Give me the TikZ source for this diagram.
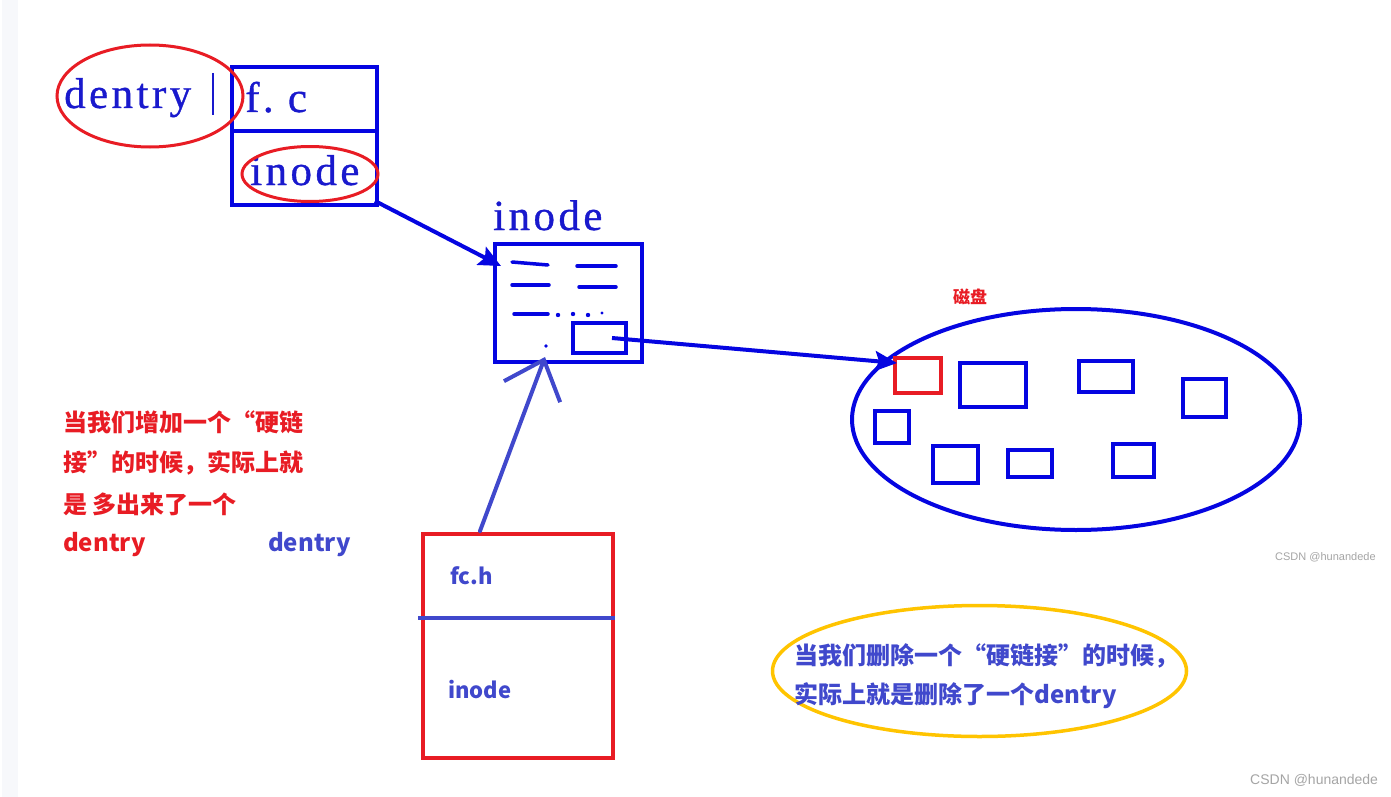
\documentclass[tikz,border=0pt]{standalone}
\usepackage{fontspec}
\setmainfont{Liberation Serif}
\newfontfamily\simserif[LetterSpace=8,FakeBold=0.8]{Liberation Serif}
\newfontfamily\cjkb{Noto Sans CJK SC}
\newfontfamily\wmfont{Liberation Sans}
\usetikzlibrary{arrows.meta,shapes.geometric}
\definecolor{skblue}{RGB}{5,5,225}
\definecolor{sktext}{RGB}{25,25,205}
\definecolor{skred}{RGB}{232,28,36}
\definecolor{penblue}{RGB}{64,72,204}
\definecolor{penyellow}{RGB}{255,196,0}
\definecolor{wm}{RGB}{165,165,165}
\definecolor{edge}{RGB}{247,248,251}
\tikzset{
  skbox/.style={draw=skblue, line width=4pt, inner sep=0pt, rectangle},
  redbox/.style={draw=skred, line width=4pt, inner sep=0pt, rectangle},
  serifblue/.style={text=sktext, font=\simserif\fontsize{43}{46}\selectfont, inner sep=0pt},
  redoval/.style={draw=skred, line width=3pt, ellipse, inner sep=0pt},
  cjkred/.style={text=skred, font=\cjkb\bfseries\fontsize{24}{28}\selectfont, inner sep=0pt, anchor=west},
  cjkblue/.style={text=penblue, font=\cjkb\bfseries\fontsize{24}{28}\selectfont, inner sep=0pt, anchor=west},
  boxlabel/.style={text=penblue, font=\cjkb\bfseries\fontsize{22}{26}\selectfont, inner sep=0pt, anchor=west},
  skarrow/.style={draw=skblue, line width=4pt, -{Stealth[length=22pt,width=20pt,inset=4pt]}},
  penarrow/.style={draw=penblue, line width=4pt, line cap=round, -{Straight Barb[length=34pt,width=60pt,line width=4pt]}},
  scribble/.style={draw=skblue, line width=3.5pt, line cap=round},
  wmark/.style={text=wm, font=\wmfont, inner sep=0pt}
}
\begin{document}
\begin{tikzpicture}[x=1pt,y=-1pt]
\useasboundingbox (0,0) rectangle (1391,797);
\fill[white] (0,0) rectangle (1391,797);
\fill[edge] (2,0) rectangle (18,797);

% dentry block
\node[skbox, minimum width=145pt, minimum height=138pt] (fc) at (304.5,136) {};
\coordinate (divl) at (232,131);
\coordinate (divr) at (377,131);
\draw[skblue, line width=4pt] (divl) -- (divr);
\node[serifblue, anchor=base west] (dentrytxt) at (64,108) {dentry};
\coordinate (bart) at (213,73);
\coordinate (barb) at (213,115);
\draw[sktext, line width=2pt] (bart) -- (barb);
\node[serifblue, anchor=base west] (fctxt) at (245,112) {f.~c};
\node[serifblue, anchor=base west] (inodetxt) at (250,185) {inode};
\node[redoval, minimum width=186pt, minimum height=102pt] (dentryoval) at (150,96) {};
\node[redoval, minimum width=136pt, minimum height=55pt] (inodeoval) at (310,174) {};

% inode box
\node[serifblue, anchor=base west] (inodelabel) at (493,230) {inode};
\node[skbox, minimum width=147pt, minimum height=118pt] (ibox) at (568.5,303) {};
\node[skbox, line width=3.5pt, minimum width=53pt, minimum height=30pt] (slot) at (599.5,338) {};
\coordinate (d1a) at (512,262); \coordinate (d1b) at (548,265);
\coordinate (d2a) at (577,266); \coordinate (d2b) at (616,266);
\coordinate (d3a) at (512,285); \coordinate (d3b) at (549,285);
\coordinate (d4a) at (579,287); \coordinate (d4b) at (616,287);
\coordinate (d5a) at (514,314); \coordinate (d5b) at (548,314);
\draw[scribble] (d1a) -- (d1b);
\draw[scribble] (d2a) -- (d2b);
\draw[scribble] (d3a) -- (d3b);
\draw[scribble] (d4a) -- (d4b);
\draw[scribble] (d5a) -- (d5b);
\fill[skblue] (558,315) circle (2.2pt) (573,314) circle (2.2pt) (588,315) circle (2.2pt) (602,313) circle (1.6pt) (546,346) circle (1.8pt);

% disk
\node[text=skred, font=\cjkb\bfseries\fontsize{17}{19}\selectfont, inner sep=0pt] (disklabel) at (970,297) {磁盘};
\node[draw=skblue, line width=4pt, ellipse, minimum width=448pt, minimum height=221pt, inner sep=0pt] (disk) at (1076,419.5) {};
\node[redbox, minimum width=46pt, minimum height=35pt] (blk0) at (918,375.5) {};
\node[skbox, minimum width=66pt, minimum height=44pt] (blk1) at (993,385) {};
\node[skbox, minimum width=54pt, minimum height=31pt] (blk2) at (1106,376.5) {};
\node[skbox, minimum width=43pt, minimum height=38pt] (blk3) at (1204.5,398) {};
\node[skbox, minimum width=34pt, minimum height=32pt] (blk4) at (892,427) {};
\node[skbox, minimum width=45pt, minimum height=37pt] (blk5) at (955.5,464.5) {};
\node[skbox, minimum width=44pt, minimum height=27pt] (blk6) at (1030,463.5) {};
\node[skbox, minimum width=41pt, minimum height=33pt] (blk7) at (1133.5,460.5) {};

% arrows
\coordinate (a1s) at (375,201);
\coordinate (a1e) at (501,266);
\draw[skarrow] (a1s) -- (a1e);
\coordinate (a2s) at (612,338);
\coordinate (a2e) at (897,363);
\draw[skarrow] (a2s) -- (a2e);

% fc.h box
\node[redbox, minimum width=190pt, minimum height=224pt] (hbox) at (518,646) {};
\coordinate (hdl) at (418,618);
\coordinate (hdr) at (615,618);
\draw[penblue, line width=4pt] (hdl) -- (hdr);
\node[boxlabel] (fch) at (450,576) {fc.h};
\node[boxlabel] (hinode) at (448,690) {inode};
\coordinate (a3s) at (480,531);
\coordinate (a3e) at (545,357);
\draw[penarrow] (a3s) -- (a3e);

% red text
\node[cjkred] (r1) at (63,422) {当我们增加一个“硬链};
\node[cjkred] (r2) at (63,463) {接”的时候，实际上就};
\node[cjkred] (r3) at (63,504) {是 多出来了一个};
\node[cjkred] (r4) at (63,545) {dentry};
\node[cjkblue] (b4) at (268,545) {dentry};

% yellow note
\node[draw=penyellow, line width=3.5pt, ellipse, minimum width=414pt, minimum height=131pt, inner sep=0pt] (note) at (979.5,671) {};
\node[cjkblue] (n1) at (794,656) {当我们删除一个“硬链接”的时候，};
\node[cjkblue] (n2) at (794,696) {实际上就是删除了一个dentry};

% watermarks
\node[wmark, font=\wmfont\fontsize{11}{12}\selectfont, anchor=west] (wm1) at (1275,557) {CSDN @hunandede};
\node[wmark, font=\wmfont\fontsize{14}{16}\selectfont, anchor=west] (wm2) at (1250,780) {CSDN @hunandede};
\end{tikzpicture}
\end{document}
